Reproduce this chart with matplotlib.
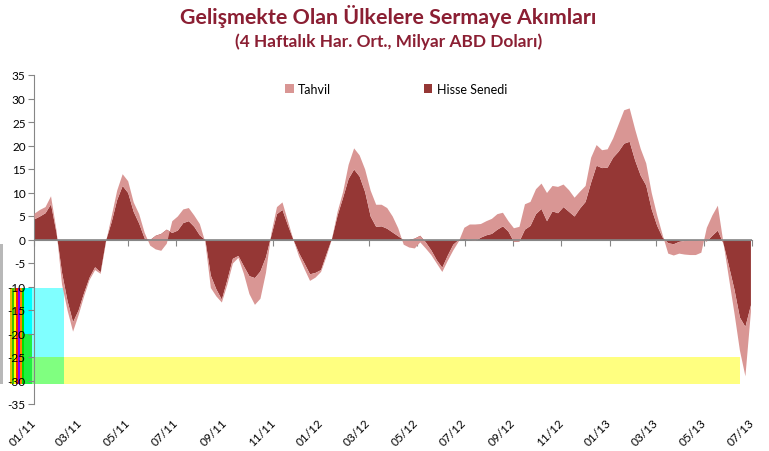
import matplotlib
matplotlib.use("Agg")
import matplotlib.pyplot as plt
import matplotlib.dates as mdates
import numpy as np
import pandas as pd
from matplotlib.patches import Patch, Rectangle

plt.rcParams['font.family'] = ['Lato', 'DejaVu Sans']

title = "Gelişmekte Olan Ülkelere Sermaye Akımları"
subtitle = "(4 Haftalık Har. Ort., Milyar ABD Doları)"
series_names = ["Tahvil", "Hisse Senedi"]

dates = pd.date_range("2011-01-01", periods=131, freq="7D")

hisse = [4.4, 5.0, 5.7, 7.6, 1.5, -7.0, -13.0, -17.5, -15.0, -11.3,
         -8.0, -5.8, -6.9, -0.1, 3.8, 8.5, 11.5, 10.0, 6.0, 3.5,
         0.3, 0.0, 0.9, 1.3, 2.2, 1.5, 2.0, 3.6, 4.0, 2.8,
         1.0, 0.0, -7.6, -10.5, -12.7, -8.5, -4.0, -3.4, -5.6, -7.7,
         -8.1, -6.7, -3.7, 1.0, 5.5, 6.4, 3.1, 0.0, -2.8, -5.0,
         -7.3, -7.0, -6.4, -3.0, 0.3, 5.2, 9.0, 13.0, 15.0, 13.5,
         10.2, 5.0, 2.8, 2.9, 2.4, 1.6, 0.8, 0.0, 0.0, 0.3,
         0.9, -0.5, -2.2, -4.3, -5.9, -3.3, -1.0, 0.0, 0.2, 0.0,
         -0.2, 0.5, 1.0, 1.3, 2.2, 2.9, 1.8, -0.4, -0.3, 2.2,
         3.0, 5.5, 6.6, 4.0, 6.1, 5.7, 7.0, 6.0, 5.0, 6.7,
         8.1, 12.2, 15.8, 15.3, 15.4, 17.5, 18.8, 20.5, 20.9, 16.9,
         13.7, 11.6, 6.5, 3.0, 0.5, -0.7, -0.9, -0.4, -0.2, -0.1,
         -0.1, 0.0, -0.3, 0.9, 2.0, -0.7, -5.5, -10.5, -16.5, -18.5, -13.9]

tahvil = [1.2, 1.4, 1.3, 1.7, 0.5, -2.5, -2.0, -2.0, -1.0, -0.7,
          -0.5, -0.6, -0.3, -0.2, 1.2, 2.0, 2.5, 2.5, 2.0, 2.0,
          1.2, -1.2, -2.9, -3.6, -3.0, 2.5, 3.0, 2.9, 2.8, 2.4,
          2.4, -0.5, -2.6, -1.5, -0.6, -1.0, -1.0, -0.4, -1.6, -3.8,
          -5.7, -5.8, -3.3, 0.5, 1.5, 1.6, 0.9, 0.0, -0.7, -1.2,
          -1.4, -1.0, -0.4, -0.5, 0.0, 0.8, 1.2, 3.0, 4.5, 4.5,
          4.8, 5.5, 4.7, 4.6, 4.4, 3.4, 1.7, -1.0, -1.6, -2.1,
          -1.4, -1.3, -1.0, -0.7, -0.9, -1.1, -1.2, -0.3, 2.4, 3.3,
          3.5, 2.9, 3.0, 3.2, 3.3, 2.9, 2.2, 2.9, 3.1, 5.4,
          5.1, 5.3, 5.4, 6.0, 5.4, 5.6, 4.8, 4.6, 4.0, 3.6,
          3.4, 5.3, 4.4, 3.8, 3.9, 4.1, 5.8, 7.1, 7.1, 6.6,
          5.7, 4.7, 3.5, 2.2, 0.5, -2.2, -2.4, -2.5, -2.9, -3.1,
          -3.1, -2.7, 2.9, 4.3, 5.3, 0.2, -2.5, -5.0, -7.0, -10.5, -1.4]

tick_dates = pd.date_range("2011-01-01", "2013-07-01", freq="2MS")
tick_labels = [d.strftime("%m/%y") for d in tick_dates]
y_ticks = list(range(-35, 40, 5))

light = "#D99694"
dark = "#953735"
title_color = "#8B1F33"
axis_gray = "#868686"

W, H = 769, 452
fig = plt.figure(figsize=(W / 100, H / 100), dpi=100)


def px_rect(x0, y0, x1, y1, color, z=-5):
    r = Rectangle((x0 / W, 1 - y1 / H), (x1 - x0) / W, (y1 - y0) / H,
                  transform=fig.transFigure, facecolor=color, edgecolor='none', zorder=z)
    fig.add_artist(r)


# glitch overlays seen in the reference image
px_rect(24, 289, 64, 358, "#80FFFF")
px_rect(24, 289, 32, 335, "#00FFFF")
px_rect(24, 358, 64, 385, "#80FF80")
px_rect(24, 335, 32, 385, "#20F040")
px_rect(64, 358, 740, 385, "#FFFF80")
for xx, c in zip([10, 12, 14, 16, 18, 20, 22],
                 ["#E8C000", "#40C000", "#FFFF00", "#FF2000", "#8000FF", "#FF8000", "#00E000"]):
    px_rect(xx, 289, xx + 2, 385, c)
px_rect(0, 245, 3, 385, "#B8B8B8")

ax = fig.add_axes([34 / W, 1 - 405 / H, 718 / W, 329 / H])
ax.patch.set_alpha(0)

x = mdates.date2num(dates)
h = np.array(hisse)
t = np.array(tahvil)
ax.fill_between(x, 0, h, color=dark, lw=0, zorder=2)
ax.fill_between(x, h, h + t, color=light, lw=0, zorder=3)
ax.axhline(0, color=axis_gray, lw=1.2, zorder=4)

ax.set_xlim(mdates.date2num(tick_dates[0]), mdates.date2num(tick_dates[-1]))
ax.set_ylim(-35, 35)
ax.set_yticks(y_ticks)
ax.set_yticklabels([str(v) for v in y_ticks])
ax.tick_params(axis='y', direction='out', length=4, color=axis_gray, labelsize=8.5, pad=2)

for s in ['top', 'right']:
    ax.spines[s].set_visible(False)
ax.spines['left'].set_color(axis_gray)
ax.spines['bottom'].set_position(('data', 0))
ax.spines['bottom'].set_color(axis_gray)
ax.set_xticks(mdates.date2num(tick_dates))
ax.tick_params(axis='x', direction='out', length=4, color=axis_gray, labelbottom=False)

sec = ax.secondary_xaxis('bottom')
sec.set_xticks(mdates.date2num(tick_dates))
sec.set_xticklabels(tick_labels, rotation=45, ha='right', va='center', rotation_mode='anchor')
sec.tick_params(length=0, pad=12, labelsize=8.5)
sec.spines['bottom'].set_visible(False)

fig.text(388 / W, 1 - 16 / H, title, ha='center', va='center', fontsize=15.4,
         fontweight='bold', color=title_color)
fig.text(389 / W, 1 - 42 / H, subtitle, ha='center', va='center', fontsize=12.4,
         fontweight='bold', color=title_color)

handles = [Patch(facecolor=light, edgecolor='none'), Patch(facecolor=dark, edgecolor='none')]
fig.legend(handles, series_names, loc='center', bbox_to_anchor=(396 / W, 1 - 90 / H),
           ncol=2, frameon=False, fontsize=9, handlelength=0.7, handleheight=0.7,
           handletextpad=0.35, columnspacing=7.4)

fig.savefig("out.png", dpi=100)
